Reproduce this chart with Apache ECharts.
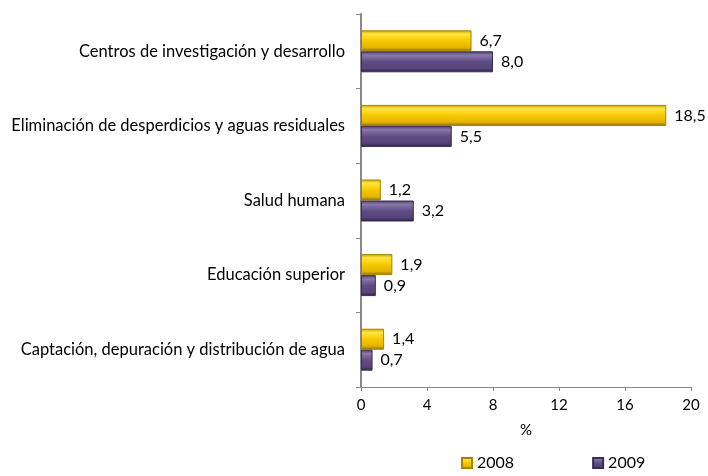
<!DOCTYPE html>
<html>
<head>
<meta charset="utf-8">
<script src="https://cdn.jsdelivr.net/npm/echarts@6/dist/echarts.min.js"></script>
<style>
  html, body { margin: 0; padding: 0; background: #fff; }
  #chart { width: 708px; height: 476px; }
</style>
</head>
<body>
<div id="chart"></div>
<script>
// categories top to bottom
var categories = [
  'Centros de investigación y desarrollo',
  'Eliminación de desperdicios y aguas residuales',
  'Salud humana',
  'Educación superior',
  'Captación, depuración y distribución de agua'
];
var values2008 = [6.7, 18.5, 1.2, 1.9, 1.4];
var values2009 = [8.0, 5.5, 3.2, 0.9, 0.7];
var xTicks = [0, 4, 8, 12, 16, 20];

function bevel(c0, c1, c2, c3, c4) {
  return new echarts.graphic.LinearGradient(0, 0, 0, 1, [
    { offset: 0, color: c0 },
    { offset: 0.18, color: c1 },
    { offset: 0.5, color: c2 },
    { offset: 0.82, color: c3 },
    { offset: 1, color: c4 }
  ]);
}

var labelFmt = function (p) {
  return p.value.toFixed(1).replace('.', ',');
};

var myChart = echarts.init(document.getElementById('chart'));
myChart.setOption({
  animation: false,
  textStyle: { fontFamily: 'Lato, sans-serif' },
  legend: {
    data: ['2008', '2009'],
    bottom: 0,
    left: 456,
    itemWidth: 10,
    itemHeight: 10,
    itemGap: 78,
    itemTextGap: 6,
    icon: 'rect',
    textStyle: { fontSize: 16, color: '#000' }
  },
  grid: {
    top: 14,
    bottom: 89,
    left: 361,
    right: 17,
    containLabel: false
  },
  xAxis: {
    type: 'value',
    min: 0,
    max: 20,
    interval: 4,
    name: '%',
    nameLocation: 'middle',
    nameGap: 36,
    nameTextStyle: { fontSize: 15, color: '#000' },
    axisLine: { show: true, lineStyle: { color: '#888', width: 1 } },
    axisTick: { show: true, length: 4, lineStyle: { color: '#888' } },
    axisLabel: {
      fontSize: 15,
      color: '#000',
      margin: 11,
      formatter: function (v) { return xTicks.indexOf(v) >= 0 ? String(v) : ''; }
    },
    splitLine: { show: false }
  },
  yAxis: {
    type: 'category',
    inverse: true,
    data: categories,
    axisLine: { show: true, lineStyle: { color: '#888', width: 2 } },
    axisTick: { show: true, length: 5, lineStyle: { color: '#888' } },
    axisLabel: { fontSize: 16.5, color: '#000', margin: 16, padding: [3, 0, 0, 0] }
  },
  series: [
    {
      name: '2008',
      type: 'bar',
      data: values2008,
      barWidth: 21,
      barGap: '0%',
      itemStyle: {
        color: bevel('#c9a200', '#ffe640', '#f6c800', '#e4b400', '#8c6e00'),
        borderColor: '#a88400',
        borderWidth: 1
      },
      label: {
        show: true,
        position: 'right',
        distance: 8,
        fontSize: 16,
        color: '#000',
        formatter: labelFmt
      }
    },
    {
      name: '2009',
      type: 'bar',
      data: values2009,
      barWidth: 21,
      barGap: '0%',
      itemStyle: {
        color: bevel('#4a3b66', '#8a78aa', '#5f4c84', '#554379', '#2c2140'),
        borderColor: '#3a2d52',
        borderWidth: 1
      },
      label: {
        show: true,
        position: 'right',
        distance: 8,
        fontSize: 16,
        color: '#000',
        formatter: labelFmt
      }
    }
  ]
});
</script>
</body>
</html>
